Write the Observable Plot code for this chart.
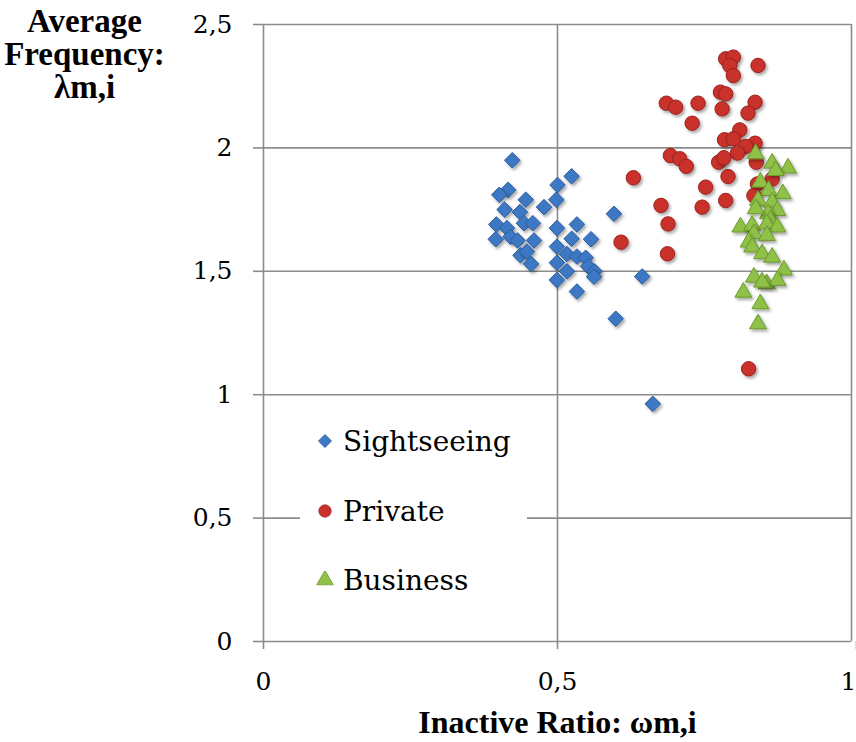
<!DOCTYPE html>
<html>
<head>
<meta charset="utf-8">
<script src="https://cdn.jsdelivr.net/npm/d3@7"></script>
<script src="https://cdn.jsdelivr.net/npm/@observablehq/plot@0.6"></script>
<style>
  html, body { margin: 0; padding: 0; background: #fff; }
  #wrap { position: relative; width: 856px; height: 742px; }
  #legend { position: absolute; left: 300px; top: 415px; width: 227px; height: 190px; background: #fff;
            font-family: "DejaVu Serif", serif; font-size: 28px; color: #000; }
  .item { position: absolute; left: 0; height: 40px; display: flex; align-items: center; }
  .item svg { margin-left: 16px; margin-right: 9px; }
</style>
</head>
<body>
<div id="wrap"></div>
<script>
// ---- data ----
const seriesNames = ["Sightseeing", "Private", "Business"];
const seriesColors = ["#3d78c5", "#c9302c", "#8fc047"];
const seriesStrokes = ["#2b5c9c", "#9c221e", "#6c9a2c"];

const sightseeing = [
  [0.423,1.95],[0.416,1.83],[0.401,1.81],[0.410,1.75],[0.446,1.79],[0.436,1.74],[0.477,1.76],
  [0.500,1.85],[0.524,1.885],[0.498,1.79],[0.596,1.733],[0.396,1.69],[0.414,1.675],[0.443,1.695],
  [0.458,1.695],[0.499,1.675],[0.533,1.69],[0.395,1.63],[0.420,1.64],[0.432,1.625],[0.460,1.625],
  [0.524,1.632],[0.557,1.63],[0.499,1.60],[0.437,1.565],[0.448,1.58],[0.455,1.53],[0.499,1.535],
  [0.516,1.57],[0.533,1.56],[0.548,1.555],[0.552,1.52],[0.563,1.50],[0.562,1.478],[0.516,1.50],
  [0.499,1.465],[0.533,1.418],[0.644,1.479],[0.599,1.308],[0.662,0.963]
];
const privateTrips = [
  [0.786,2.361],[0.799,2.368],[0.793,2.334],[0.799,2.293],[0.841,2.334],[0.777,2.226],[0.786,2.219],
  [0.780,2.158],[0.685,2.181],[0.701,2.165],[0.739,2.181],[0.729,2.100],[0.836,2.185],[0.824,2.141],
  [0.810,2.073],[0.784,2.033],[0.799,2.037],[0.836,2.019],[0.820,2.006],[0.806,1.979],[0.692,1.969],
  [0.708,1.956],[0.719,1.925],[0.774,1.942],[0.783,1.960],[0.790,1.884],[0.838,1.942],[0.752,1.841],
  [0.629,1.879],[0.676,1.767],[0.688,1.692],[0.608,1.618],[0.687,1.571],[0.746,1.760],[0.786,1.787],
  [0.865,1.874],[0.840,1.854],[0.834,1.807],[0.825,1.105]
];
const business = [
  [0.837,1.976],[0.865,1.938],[0.892,1.918],[0.871,1.908],[0.845,1.861],[0.859,1.827],[0.883,1.814],
  [0.841,1.787],[0.865,1.780],[0.874,1.746],[0.858,1.733],[0.837,1.753],[0.862,1.706],[0.811,1.679],
  [0.831,1.686],[0.856,1.692],[0.874,1.679],[0.834,1.652],[0.856,1.645],[0.825,1.618],[0.831,1.598],
  [0.848,1.571],[0.865,1.557],[0.885,1.505],[0.834,1.476],[0.856,1.449],[0.874,1.463],[0.848,1.456],
  [0.816,1.415],[0.845,1.368],[0.841,1.287]
];
const xTicks = [0, 0.5, 1];
const yTicks = [0, 0.5, 1, 1.5, 2, 2.5];
const xTitle = "Inactive Ratio: ωm,i";
const yTitle = "Average\nFrequency:\nλm,i";

// ---- chart ----
const fmt = d => String(d).replace(".", ",");
const gridColor = "#8c8c8c";

const chart = Plot.plot({
  width: 856,
  height: 742,
  marginLeft: 263,
  marginRight: 5,
  marginTop: 24,
  marginBottom: 101,
  style: { fontFamily: "DejaVu Serif, serif", fontSize: "25px", color: "#000", background: "#fff", overflow: "visible" },
  x: { domain: [0, 1] },
  y: { domain: [0, 2.5] },
  marks: [
    Plot.gridX(xTicks.slice(1), { stroke: gridColor, strokeOpacity: 1, strokeWidth: 1.6 }),
    Plot.gridY(yTicks.slice(1), { stroke: gridColor, strokeOpacity: 1, strokeWidth: 1.6 }),
    Plot.ruleX([0], { stroke: gridColor, strokeWidth: 1.6 }),
    Plot.ruleY([0], { stroke: gridColor, strokeWidth: 1.6 }),
    Plot.axisX(xTicks.slice(0, -1), { tickSize: 8, tickPadding: 23, tickFormat: fmt, stroke: gridColor, strokeWidth: 1.6, fill: "#000", label: null }),
    Plot.axisX(xTicks.slice(-1), { tickSize: 8, tickPadding: 23, tickFormat: fmt, stroke: gridColor, strokeWidth: 1.6, fill: "#000", label: null, textAnchor: "end", dx: 5 }),
    Plot.axisY(yTicks, { tickSize: 10, tickPadding: 21, tickFormat: fmt, stroke: gridColor, strokeWidth: 1.6, fill: "#000", label: null }),
    Plot.dot(sightseeing, { x: d => d[0], y: d => d[1], symbol: "diamond2", r: 7.0,
      fill: seriesColors[0], stroke: seriesStrokes[0], strokeWidth: 1 }),
    Plot.dot(privateTrips, { x: d => d[0], y: d => d[1], symbol: "circle", r: 7.2,
      fill: seriesColors[1], stroke: seriesStrokes[1], strokeWidth: 1 }),
    Plot.dot(business, { x: d => d[0], y: d => d[1], symbol: "triangle", r: 6.3,
      fill: seriesColors[2], stroke: seriesStrokes[2], strokeWidth: 1 }),
    Plot.text([yTitle], { frameAnchor: "top-left", dx: -179, dy: 30, textAnchor: "middle", lineAnchor: "middle",
      lineHeight: 1.0, fontFamily: "Liberation Serif, serif", fontWeight: "bold", fontSize: 33, fill: "#000" }),
    Plot.text([xTitle], { frameAnchor: "bottom", dy: 81, textAnchor: "middle", lineAnchor: "middle",
      fontFamily: "Liberation Serif, serif", fontWeight: "bold", fontSize: 32, fill: "#000" })
  ]
});

// drop shadow on markers
const svg = d3.select(chart);
const defs = svg.insert("defs", ":first-child");
const f = defs.append("filter").attr("id", "shadow").attr("x", "-50%").attr("y", "-50%").attr("width", "200%").attr("height", "200%");
f.append("feDropShadow").attr("dx", 1.8).attr("dy", 2.2).attr("stdDeviation", 1.4).attr("flood-color", "#000").attr("flood-opacity", 0.35);
svg.selectAll("g[aria-label='dot'] path, g[aria-label='dot'] circle").attr("filter", "url(#shadow)");

const wrap = document.getElementById("wrap");
wrap.appendChild(chart);

// legend
const legend = document.createElement("div");
legend.id = "legend";
const symbols = [d3.symbolDiamond2, d3.symbolCircle, d3.symbolTriangle];
const symSizes = [110, 120, 120];
const rowTops = [6, 76, 145];
seriesNames.forEach((name, i) => {
  const item = document.createElement("div");
  item.className = "item";
  item.style.top = rowTops[i] + "px";
  const s = d3.create("svg").attr("width", 18).attr("height", 18);
  s.append("path").attr("transform", "translate(9,9)")
    .attr("d", d3.symbol(symbols[i], symSizes[i])())
    .attr("fill", seriesColors[i]).attr("stroke", seriesStrokes[i]).attr("stroke-width", 0.8);
  item.appendChild(s.node());
  const t = document.createElement("span");
  t.textContent = name;
  item.appendChild(t);
  legend.appendChild(item);
});
wrap.appendChild(legend);
</script>
</body>
</html>
